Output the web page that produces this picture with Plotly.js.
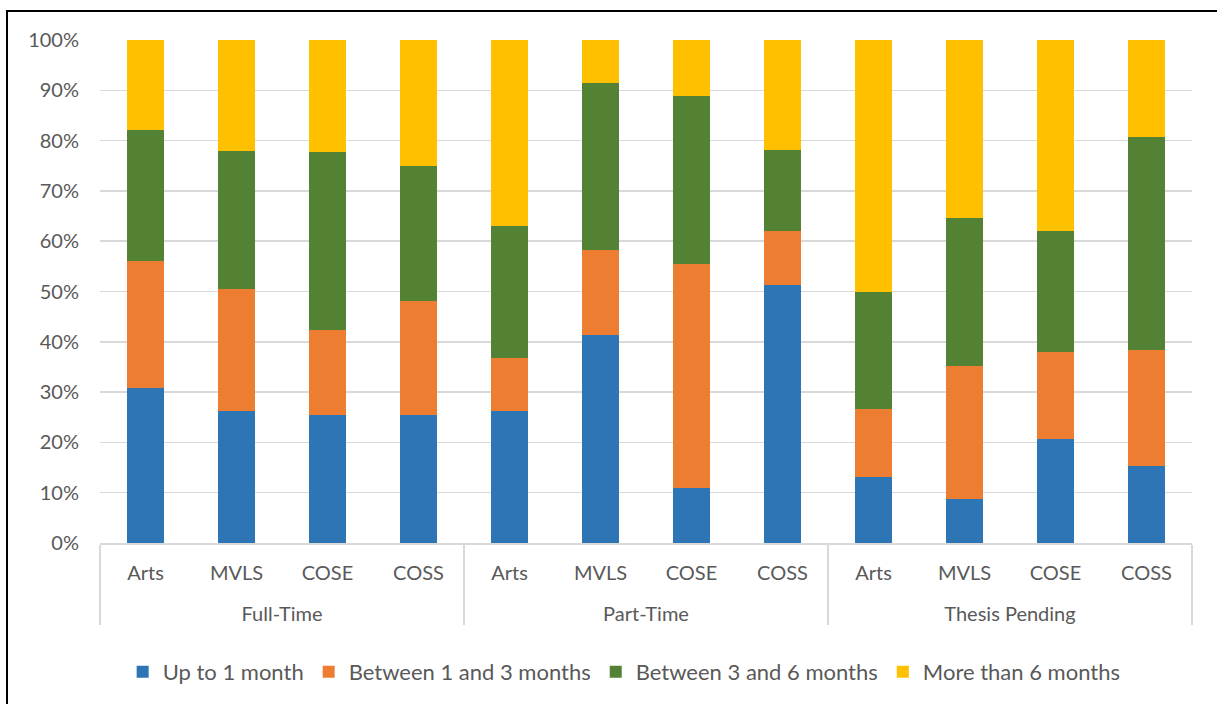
<!DOCTYPE html>
<html>
<head>
<meta charset="utf-8">
<script src="https://cdn.plot.ly/plotly-3.0.1.min.js"></script>
<style>
  html, body { margin: 0; padding: 0; background: #fff; }
  #wrap { position: relative; width: 1217px; height: 704px; overflow: hidden; }
  #chart { position: absolute; left: 0; top: 0; width: 1217px; height: 704px; }
  #frame { position: absolute; left: 6px; top: 10px; width: 1300px; height: 800px;
           border-left: 2px solid #000; border-top: 2px solid #000; pointer-events: none; }
</style>
</head>
<body>
<div id="wrap">
  <div id="chart"></div>
  <div id="frame"></div>
</div>
<script>
const groups = ["Full-Time","Full-Time","Full-Time","Full-Time",
                "Part-Time","Part-Time","Part-Time","Part-Time",
                "Thesis Pending","Thesis Pending","Thesis Pending","Thesis Pending"];
const colleges = ["Arts","MVLS","COSE","COSS","Arts","MVLS","COSE","COSS","Arts","MVLS","COSE","COSS"];

const seriesNames = ["Up to 1 month","Between 1 and 3 months","Between 3 and 6 months","More than 6 months"];
const upTo1Month     = [30.8, 26.2, 25.5, 25.4, 26.2, 41.4, 11.0, 51.2, 13.2,  8.8, 20.6, 15.3];
const between1and3   = [25.2, 24.3, 16.8, 22.8, 10.6, 16.9, 44.5, 10.9, 13.4, 26.4, 17.3, 23.1];
const between3and6   = [26.1, 27.4, 35.4, 26.8, 26.3, 33.2, 33.4, 16.1, 23.4, 29.4, 24.1, 42.3];
const moreThan6      = [17.9, 22.1, 22.3, 25.0, 36.9,  8.5, 11.1, 21.8, 50.0, 35.4, 38.0, 19.3];
const colors = ["#2E75B6","#ED7D31","#548235","#FFC000"];

// outer-level labels drawn one line lower (leading line break) to match the reference spacing
const groupLabels = groups.map(g => "<br>" + g);

const values = [upTo1Month, between1and3, between3and6, moreThan6];
const traces = values.map((v, i) => ({
  type: "bar",
  name: seriesNames[i],
  x: [groupLabels, colleges],
  y: v.map(d => d / 100),
  marker: { color: colors[i], line: { width: 0 } },
  hoverinfo: "y+name"
}));

const fam = "Lato, 'Open Sans', sans-serif";
const tickFont = { family: fam, size: 20, color: "#595959" };
const legendFont = { family: fam, size: 22, color: "#595959" };

const layout = {
  width: 1217, height: 704,
  margin: { l: 100, r: 25, t: 40, b: 160 },
  paper_bgcolor: "#fff", plot_bgcolor: "#fff",
  barmode: "stack",
  bargap: 0.6,
  font: tickFont,
  showlegend: true,
  legend: {
    orientation: "h", x: 0.48, xanchor: "center", y: -0.254, yanchor: "middle",
    font: legendFont, traceorder: "normal", itemclick: false
  },
  xaxis: {
    type: "multicategory",
    showline: true, linecolor: "#D9D9D9", linewidth: 1.5,
    showdividers: true, dividercolor: "#D9D9D9", dividerwidth: 1.5,
    ticks: "", showgrid: false,
    tickfont: tickFont,
    ticklabelstandoff: 11
  },
  yaxis: {
    range: [0, 1], dtick: 0.1, tick0: 0, tickformat: ".0%",
    showgrid: true, gridcolor: "#D9D9D9", gridwidth: 1.5,
    zeroline: false, showline: false, ticks: "",
    tickfont: tickFont,
    ticklabelstandoff: 20
  }
};

Plotly.newPlot("chart", traces, layout, { displayModeBar: false, staticPlot: true });
</script>
</body>
</html>
